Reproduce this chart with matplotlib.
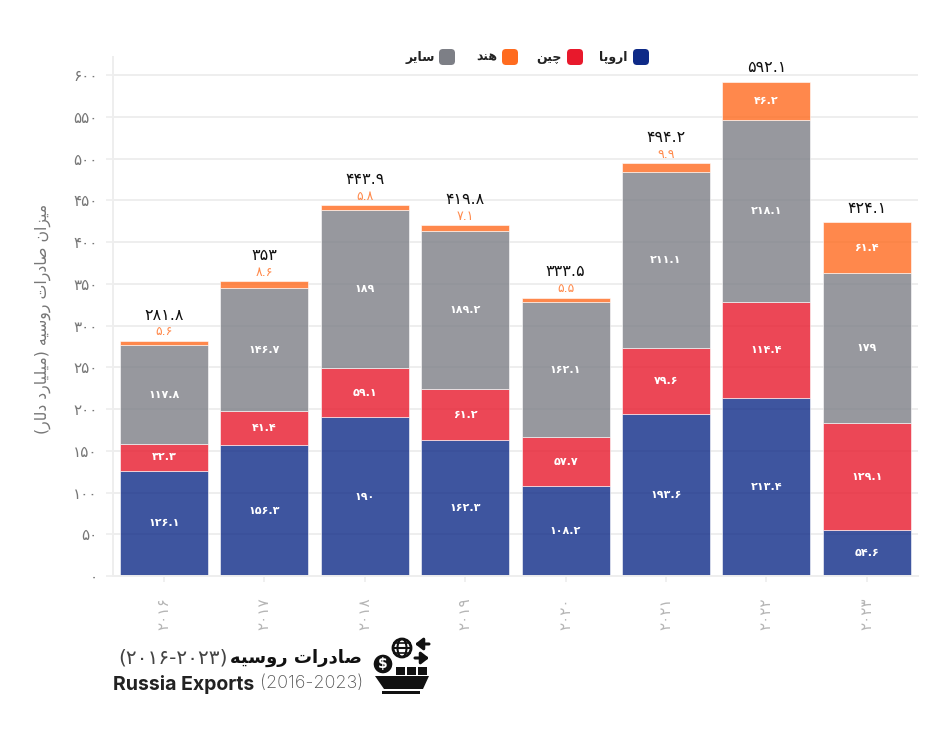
import matplotlib
matplotlib.use("Agg")
import matplotlib.pyplot as plt
from matplotlib.patches import Circle, FancyBboxPatch, Polygon, Rectangle, Ellipse

years = [2016, 2017, 2018, 2019, 2020, 2021, 2022, 2023]
europe = [126.1, 156.3, 190, 162.3, 108.2, 193.6, 213.4, 54.6]
china = [32.3, 41.4, 59.1, 61.2, 57.7, 79.6, 114.4, 129.1]
others = [117.8, 146.7, 189, 189.2, 162.1, 211.1, 218.1, 179]
india = [5.6, 8.6, 5.8, 7.1, 5.5, 9.9, 46.2, 61.4]
totals = [281.8, 353, 443.9, 419.8, 333.5, 494.2, 592.1, 424.1]
y_ticks = list(range(0, 601, 50))

series_names = ["اروپا", "چین", "هند", "سایر"]
y_title = "میزان صادرات روسیه (میلیارد دلار)"
fa_title = "صادرات روسیه"
fa_years = "(۲۰۱۶-۲۰۲۳)"
en_title = "Russia Exports"
en_years = "(2016-2023)"

BLUE = "#0e2a87"
RED = "#e8192c"
ORANGE = "#ff6b1f"
GRAY = "#7d7f86"

# letter: isolated, final, initial, medial
FORMS = {
    "ا": "\ufe8d\ufe8e", "د": "\ufea9\ufeaa", "ر": "\ufead\ufeae", "ز": "\ufeaf\ufeb0",
    "و": "\ufeed\ufeee",
    "ب": "\ufe8f\ufe90\ufe91\ufe92", "پ": "\ufb56\ufb57\ufb58\ufb59", "ت": "\ufe95\ufe96\ufe97\ufe98",
    "چ": "\ufb7a\ufb7b\ufb7c\ufb7d", "س": "\ufeb1\ufeb2\ufeb3\ufeb4", "ص": "\ufeb9\ufeba\ufebb\ufebc",
    "ل": "\ufedd\ufede\ufedf\ufee0", "م": "\ufee1\ufee2\ufee3\ufee4", "ن": "\ufee5\ufee6\ufee7\ufee8",
    "ه": "\ufee9\ufeea\ufeeb\ufeec", "ی": "\ufbfc\ufbfd\ufbfe\ufbff",
}
MIRROR = {"(": ")", ")": "("}


def shape(text):
    # matplotlib does no arabic shaping, so pick the joined forms by hand
    out = []
    for i, c in enumerate(text):
        if c not in FORMS:
            out.append(MIRROR.get(c, c))
            continue
        prev_c = text[i - 1] if i > 0 else " "
        next_c = text[i + 1] if i < len(text) - 1 else " "
        joins_prev = prev_c in FORMS and len(FORMS[prev_c]) == 4
        joins_next = next_c in FORMS and len(FORMS[c]) == 4
        if joins_prev and joins_next:
            out.append(FORMS[c][3])
        elif joins_next:
            out.append(FORMS[c][2])
        elif joins_prev:
            out.append(FORMS[c][1])
        else:
            out.append(FORMS[c][0])
    return "".join(reversed(out))


def fa_num(v):
    return f"{v:g}".translate(str.maketrans("0123456789", "۰۱۲۳۴۵۶۷۸۹"))


plt.rcParams["font.family"] = ["DejaVu Sans"]

fig = plt.figure(figsize=(9.4, 7.29), dpi=100)
ax = fig.add_axes([113 / 940, 1 - 576 / 729, 805 / 940, 519 / 729])
ax.set_xlim(-0.508, 7.51)
ax.set_ylim(0, 621.6)

x = list(range(len(years)))
bottom = [0] * len(years)
for values, color in [(europe, BLUE), (china, RED), (others, GRAY), (india, ORANGE)]:
    ax.bar(x, values, width=0.875, bottom=bottom, color=color, alpha=0.8,
           edgecolor="white", linewidth=0.5, zorder=2)
    for i, v in enumerate(values):
        if v > 20:
            ax.text(i, bottom[i] + v / 2, fa_num(v), color="white", ha="center", va="center",
                    fontsize=8, fontweight="bold", zorder=3)
    bottom = [b + v for b, v in zip(bottom, values)]

# small india shares sit above the bar, total on top of them
for i, total in enumerate(totals):
    offset = 10
    if india[i] < 20:
        ax.annotate(fa_num(india[i]), (i, total), xytext=(0, 6.5), textcoords="offset points",
                    color="#ff8a4c", ha="center", va="center", fontsize=9)
        offset = 18.5
    ax.annotate(fa_num(total), (i, total), xytext=(0, offset), textcoords="offset points",
                color="#111111", ha="center", va="center", fontsize=11.5, annotation_clip=False)

ax.set_yticks(y_ticks)
ax.set_yticklabels([fa_num(t) for t in y_ticks], color="#777777", fontsize=11)
ax.set_xticks(x)
ax.set_xticklabels([fa_num(y) for y in years], rotation=90, color="#b5b5b5", fontsize=11)
ax.tick_params(axis="y", length=5, width=1.2, color="#eeeeee", pad=6)
ax.tick_params(axis="x", length=4.5, width=1.2, color="#eeeeee", pad=11)
ax.grid(axis="y", color="#eeeeee", linewidth=1.4, zorder=0)
ax.set_axisbelow(True)
for side in ["top", "right"]:
    ax.spines[side].set_visible(False)
ax.spines["left"].set_color("#eeeeee")
ax.spines["left"].set_linewidth(1.4)
ax.spines["bottom"].set_color("#eeeeee")
ax.spines["bottom"].set_linewidth(1.4)

# overlay in pixels for legend, title block and icon
ov = fig.add_axes([0, 0, 1, 1], zorder=5)
ov.set_xlim(0, 940)
ov.set_ylim(729, 0)
ov.axis("off")
ov.patch.set_alpha(0)

legend_pos = [(641, 628), (575, 562), (510, 497), (447, 435)]
for name, color, (sq, tx) in zip(series_names, [BLUE, RED, ORANGE, GRAY], legend_pos):
    ov.add_patch(FancyBboxPatch((sq - 5, 52), 10, 10, boxstyle="round,pad=3,rounding_size=4",
                                fc=color, ec="none"))
    ov.text(tx, 57, shape(name), ha="right", va="center", fontsize=9, fontweight="bold", color="#222222")

ov.text(43, 319, shape(y_title), rotation=90, ha="center", va="center", fontsize=11.3, color="#777777")

ov.text(362, 658, shape(fa_title), ha="right", va="center", fontsize=13, fontweight="bold", color="#111111")
ov.text(228, 658, fa_years, ha="right", va="center", fontsize=14.5, color="#444444")
ov.text(113, 684, en_title, ha="left", va="center", fontsize=14, fontweight="bold", family="Inter", color="#222222")
ov.text(363, 684, en_years, ha="right", va="center", fontsize=13, family="Inter", color="#555555", fontweight="light")

# ship icon
k = "#111111"
ov.add_patch(Polygon([(375, 676), (429, 676), (423, 689), (384, 689)], fc=k, ec="none"))
ov.add_patch(Rectangle((382, 691), 38, 3, fc=k, ec="none"))
for cx in [400, 411, 422]:
    ov.add_patch(Rectangle((cx - 4.5, 667), 9, 8, fc=k, ec="none"))
ov.add_patch(Circle((383, 664), 10, fc=k, ec="white", lw=1))
ov.text(383, 664, "$", color="white", ha="center", va="center", fontsize=10, fontweight="bold")
ov.add_patch(Circle((402, 648), 9, fc="none", ec=k, lw=2))
ov.add_patch(Ellipse((402, 648), 9, 18, fc="none", ec=k, lw=1.5))
ov.plot([393, 411], [648, 648], color=k, lw=1.5)
ov.plot([394, 410], [643, 643], color=k, lw=1.2)
ov.plot([394, 410], [653, 653], color=k, lw=1.2)
arrow = dict(arrowstyle="-|>,head_width=0.35,head_length=0.45", color=k, lw=2.2, shrinkA=0, shrinkB=0)
ov.annotate("", xy=(415, 644), xytext=(429, 644), arrowprops=arrow)
ov.annotate("", xy=(429, 658), xytext=(415, 658), arrowprops=arrow)

fig.savefig("out.png", dpi=100, facecolor="white")
